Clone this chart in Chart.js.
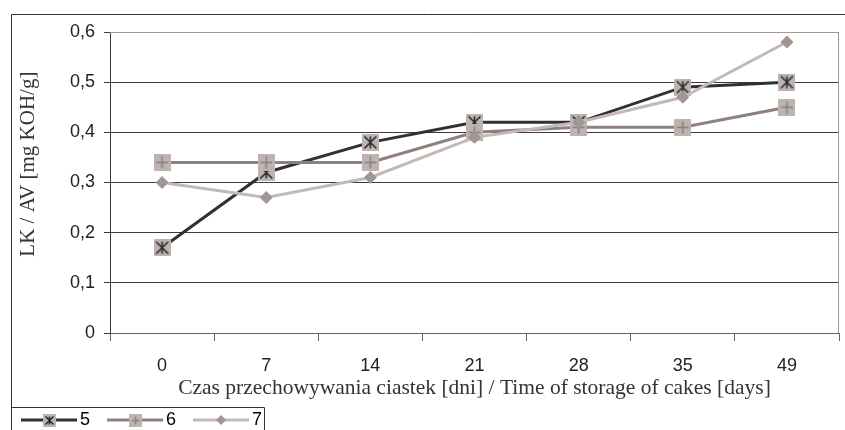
<!DOCTYPE html>
<html>
<head>
<meta charset="utf-8">
<script src="https://cdn.jsdelivr.net/npm/chart.js@4.4.1/dist/chart.umd.min.js"></script>
<style>
  html, body { margin: 0; padding: 0; background: #fff; }
</style>
</head>
<body>
<canvas id="wykres" width="845" height="430"></canvas>
<script>
// dane
const dni = ['0', '7', '14', '21', '28', '35', '49'];
const seria5 = [0.17, 0.32, 0.38, 0.42, 0.42, 0.49, 0.50];
const seria6 = [0.34, 0.34, 0.34, 0.40, 0.41, 0.41, 0.45];
const seria7 = [0.30, 0.27, 0.31, 0.39, 0.42, 0.47, 0.58];
const nazwy = ['5', '6', '7'];
const yTicks = ['0', '0,1', '0,2', '0,3', '0,4', '0,5', '0,6'];

const kolory = ['#313135', '#8d807d', '#c3bab7'];

// kwadratowy znacznik z gwiazdka albo plusem
function marker(kind, size) {
  const c = document.createElement('canvas');
  c.width = size;
  c.height = size;
  const g = c.getContext('2d');
  g.fillStyle = '#bdb4b1';
  g.fillRect(0, 0, size, size);
  g.lineWidth = 1.6;
  const m = 2.5, e = size - 2.5, h = size / 2;
  g.beginPath();
  if (kind === 'gwiazdka') {
    g.strokeStyle = '#2b2b2e';
    g.moveTo(m, m); g.lineTo(e, e);
    g.moveTo(e, m); g.lineTo(m, e);
    g.moveTo(h, m); g.lineTo(h, e);
  } else {
    g.strokeStyle = '#8d817e';
    g.moveTo(h, m); g.lineTo(h, e);
    g.moveTo(m, h); g.lineTo(e, h);
  }
  g.stroke();
  return c;
}

// ikona legendy: odcinek linii ze znacznikiem
function ikona(kolor, kind) {
  const c = document.createElement('canvas');
  c.width = 74;
  c.height = 18;
  const g = c.getContext('2d');
  g.strokeStyle = kolor;
  g.lineWidth = 3;
  g.beginPath();
  g.moveTo(17, 9);
  g.lineTo(73, 9);
  g.stroke();
  const cx = 45;
  if (kind === 'romb') {
    g.fillStyle = '#a19693';
    g.beginPath();
    g.moveTo(cx, 4); g.lineTo(cx + 5, 9); g.lineTo(cx, 14); g.lineTo(cx - 5, 9);
    g.closePath();
    g.fill();
  } else {
    g.drawImage(marker(kind, 13), cx - 6, 3);
  }
  return c;
}

const ikony = [ikona(kolory[0], 'gwiazdka'), ikona(kolory[1], 'plus'), ikona(kolory[2], 'romb')];

// ramki: obszar wykresu, caly wykres i legenda
const ramka = {
  id: 'ramka',
  afterDraw(chart) {
    const ctx = chart.ctx;
    const a = chart.chartArea;
    ctx.save();
    ctx.lineWidth = 1;
    ctx.strokeStyle = '#a39794';
    ctx.beginPath();
    ctx.moveTo(a.left, a.top + 0.5);
    ctx.lineTo(a.right - 0.5, a.top + 0.5);
    ctx.lineTo(a.right - 0.5, a.bottom);
    ctx.stroke();

    ctx.strokeStyle = '#333';
    ctx.beginPath();
    ctx.moveTo(11.5, chart.height);
    ctx.lineTo(11.5, 14.5);
    ctx.lineTo(chart.width, 14.5);
    ctx.stroke();

    const hb = chart.legend.legendHitBoxes;
    const last = hb[hb.length - 1];
    const r = Math.round(last.left + last.width + 2) + 0.5;
    const t = Math.round(chart.legend.top + 3) + 0.5;
    ctx.beginPath();
    ctx.moveTo(11.5, t);
    ctx.lineTo(r, t);
    ctx.lineTo(r, chart.height);
    ctx.stroke();
    ctx.restore();
  }
};

Chart.defaults.font.family = "'Liberation Sans', Arial, sans-serif";
Chart.defaults.color = '#222';

new Chart(document.getElementById('wykres'), {
  type: 'line',
  data: {
    labels: dni,
    datasets: [
      { label: nazwy[0], data: seria5, borderColor: kolory[0], borderWidth: 3, pointStyle: marker('gwiazdka', 17), pointRadius: 8, order: 3 },
      { label: nazwy[1], data: seria6, borderColor: kolory[1], borderWidth: 3, pointStyle: marker('plus', 17), pointRadius: 8, order: 2 },
      { label: nazwy[2], data: seria7, borderColor: kolory[2], borderWidth: 3, pointStyle: 'rectRot', pointRadius: 6,
        pointBackgroundColor: '#a19693', pointBorderColor: '#a19693', pointBorderWidth: 1, order: 1 }
    ]
  },
  options: {
    responsive: false,
    animation: false,
    events: [],
    devicePixelRatio: 1,
    layout: { autoPadding: false, padding: { left: 4, top: 32, right: 6, bottom: 0 } },
    elements: { line: { tension: 0 } },
    scales: {
      x: {
        offset: true,
        grid: { offset: true, drawOnChartArea: false, drawTicks: true, tickLength: 8, color: '#6b6260' },
        border: { color: '#6b6260', width: 1 },
        ticks: { font: { size: 18 }, padding: 14, color: '#222' },
        title: {
          display: true,
          text: 'Czas przechowywania ciastek [dni] / Time of storage of cakes [days]',
          font: { family: "'Liberation Serif', 'Times New Roman', serif", size: 21.5 },
          color: '#333',
          padding: { top: 0, bottom: 3 }
        },
        afterFit(s) { s.height = 71; }
      },
      y: {
        min: 0,
        max: 0.6,
        grid: { color: '#3c3c3c', tickLength: 6 },
        border: { color: '#3c3c3c' },
        ticks: {
          stepSize: 0.1,
          padding: 9,
          font: { size: 18 },
          color: '#222',
          callback: (v, i) => yTicks[i]
        },
        title: {
          display: true,
          text: '       LK / AV [mg KOH/g]',
          font: { family: "'Liberation Serif', 'Times New Roman', serif", size: 21 },
          color: '#333',
          padding: { top: 12, bottom: 0 }
        },
        afterFit(s) { s.width = 106; }
      }
    },
    plugins: {
      tooltip: { enabled: false },
      legend: {
        position: 'bottom',
        align: 'start',
        maxHeight: 26,
        labels: {
          usePointStyle: true,
          pointStyleWidth: 60,
          padding: 7,
          font: { size: 18 },
          color: '#222',
          generateLabels(chart) {
            return chart.data.datasets.map((ds, i) => ({
              text: ds.label,
              pointStyle: ikony[i],
              fillStyle: kolory[i],
              strokeStyle: kolory[i],
              lineWidth: 0,
              hidden: false,
              datasetIndex: i
            }));
          }
        }
      }
    }
  },
  plugins: [ramka]
});
</script>
</body>
</html>
